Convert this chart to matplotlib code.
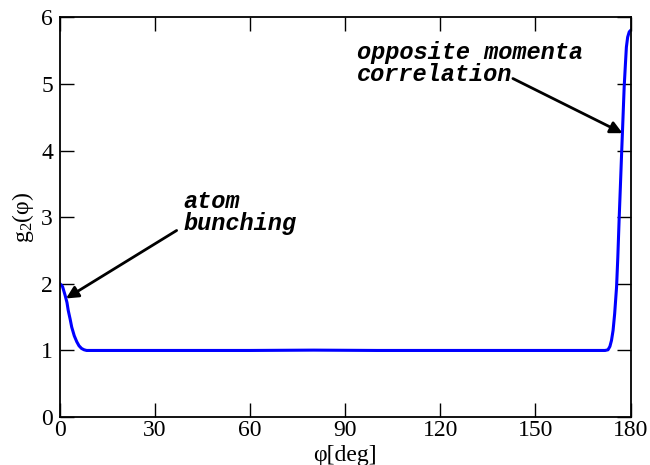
import matplotlib
matplotlib.use('Agg')
import matplotlib.pyplot as plt

# valores (phi em graus, g2)
phi = [0, 0.8, 1.6, 2.2, 2.6, 3.2, 3.7, 4.5, 5.3, 6.0, 6.8, 7.6, 8.4, 12,
       30, 60, 80, 100, 120, 150, 170, 172.0, 172.9, 173.5, 174.0, 174.5,
       175.0, 175.6, 176.0, 176.4, 176.8, 177.2, 177.6, 178.0, 178.4, 178.7,
       179.1, 179.6, 180]
g2 = [2.0, 1.96, 1.83, 1.72, 1.6, 1.47, 1.35, 1.22, 1.13, 1.07, 1.03, 1.01, 1.0, 1.0,
      1.0, 1.0, 1.005, 1.0, 1.0, 1.0, 1.0, 1.0, 1.01, 1.06, 1.15, 1.30,
      1.55, 1.95, 2.4, 2.95, 3.45, 3.96, 4.45, 4.95, 5.3, 5.55,
      5.7, 5.78, 5.8]

xticks = [0, 30, 60, 90, 120, 150, 180]
yticks = [0, 1, 2, 3, 4, 5, 6]

plt.rcParams['font.family'] = ['Liberation Serif', 'DejaVu Serif']
plt.rcParams['mathtext.fontset'] = 'custom'
plt.rcParams['mathtext.rm'] = 'Liberation Serif'
plt.rcParams['mathtext.it'] = 'Liberation Serif'

fig = plt.figure(figsize=(6.5, 4.65), dpi=100)
ax = fig.add_axes([0.0923, 0.103, 0.8777, 0.860])

ax.plot(phi, g2, color='#0000ff', linewidth=2.2)

ax.set_xlim(0, 180)
ax.set_ylim(0, 6)
ax.set_xticks(xticks)
ax.set_yticks(yticks)
ax.tick_params(direction='in', length=10, width=1, top=True, right=True,
               labelsize=17, pad=2)
ax.tick_params(axis='y', pad=5)
for s in ax.spines.values():
    s.set_linewidth(1.3)

ax.set_xlabel('φ[deg]', fontsize=17, labelpad=3)
ax.set_ylabel(r'g$_2$(φ)', fontsize=17, labelpad=4)

mono = dict(family='Liberation Mono', weight='bold', style='italic', fontsize=17)
seta = dict(arrowstyle='-|>', color='black', lw=2, mutation_scale=18,
            shrinkA=0, shrinkB=0)

# textos
ax.text(39, 3.07, 'atom\nbunching', ha='left', va='center', linespacing=0.95, **mono)
ax.text(93.6, 5.3, 'opposite momenta\ncorrelation', ha='left', va='center',
        linespacing=0.95, **mono)

# setas
ax.annotate('', xy=(1.9, 1.78), xytext=(36.8, 2.8), arrowprops=seta)
ax.annotate('', xy=(177.5, 4.26), xytext=(142.9, 5.08), arrowprops=seta)

plt.savefig('out.png', dpi=100)
